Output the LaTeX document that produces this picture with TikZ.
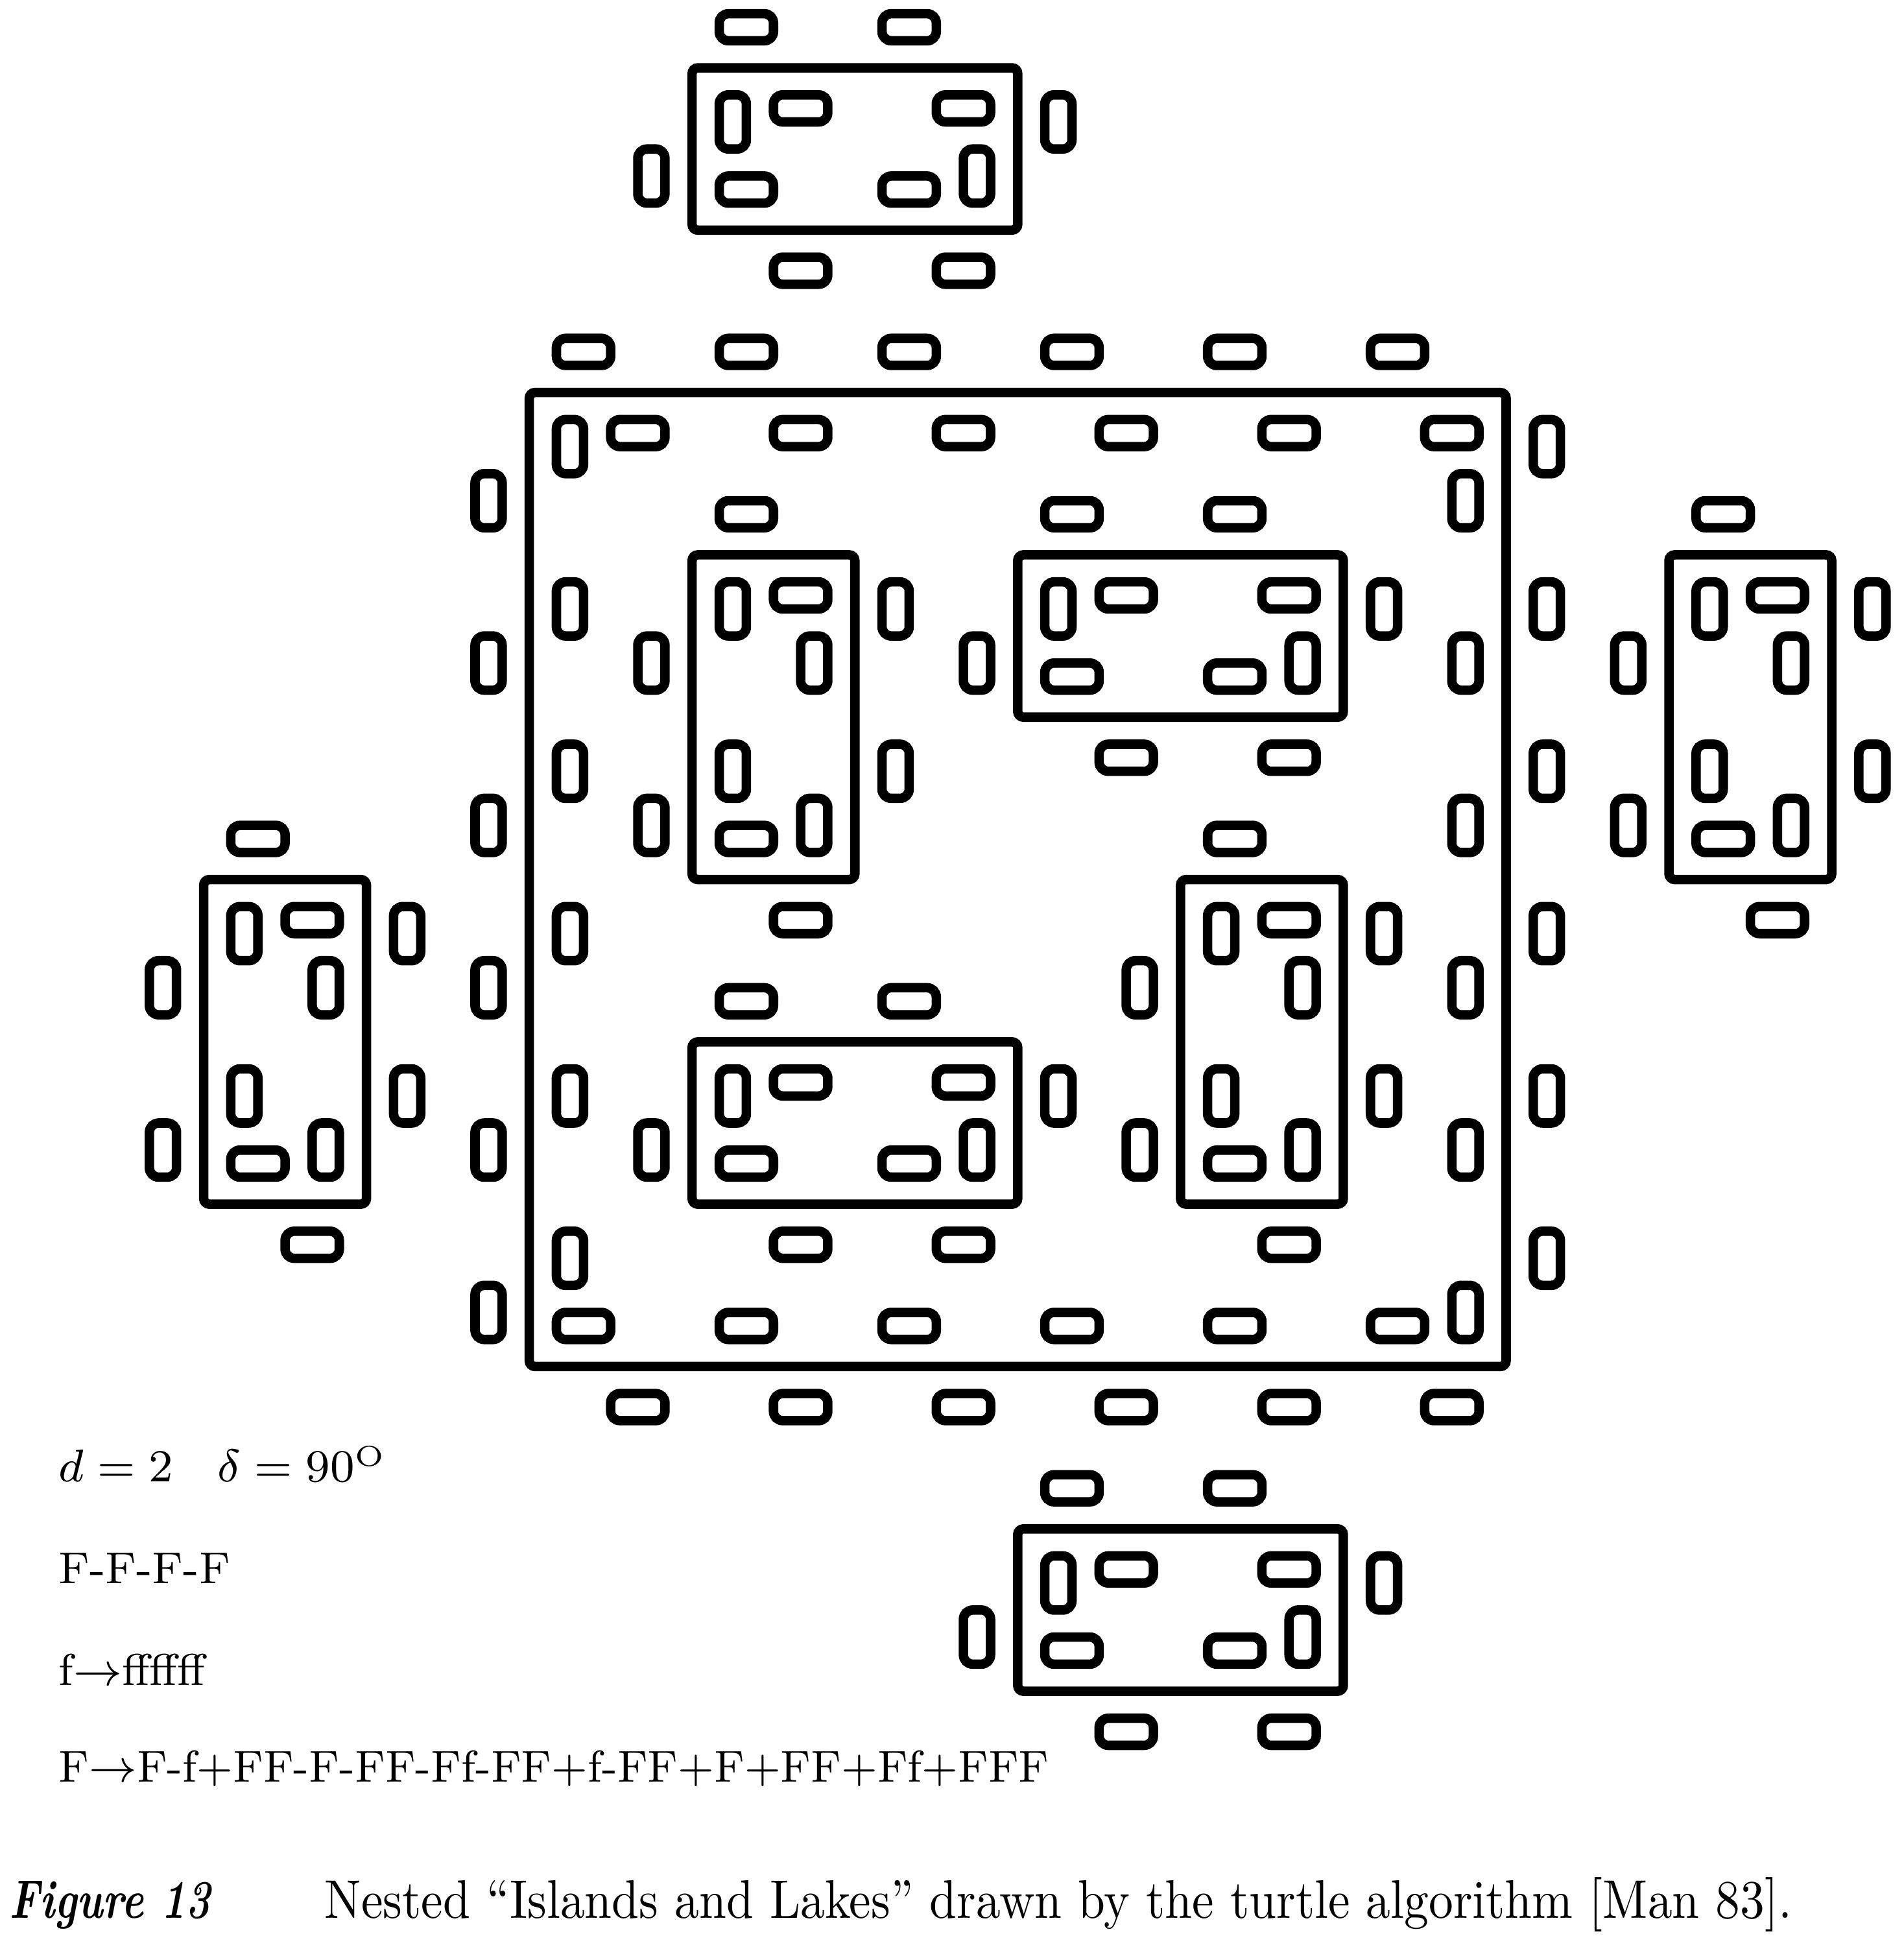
\documentclass[tikz,border=0pt]{standalone}
\usepackage{amsmath}
\usepackage{graphicx}
\usepackage{tikz}

% one unit step from (#1,#2) in direction (#3,#4), repeated #5 times:
% small lake on the left, small island on the right
\newcommand{\sidepair}[5]{%
  \foreach \k in {1,...,#5} {
    \pgfmathsetmacro{\sx}{#1+(\k-1)*(#3)}
    \pgfmathsetmacro{\sy}{#2+(\k-1)*(#4)}
    \draw[islet] ({\sx+(#3)/6-(#4)/6}, {\sy+(#4)/6+(#3)/6}) rectangle ({\sx+(#3)/2-(#4)/3}, {\sy+(#4)/2+(#3)/3});
    \draw[islet] ({\sx+(#3)/2+(#4)/6}, {\sy+(#4)/2-(#3)/6}) rectangle ({\sx+5*(#3)/6+(#4)/3}, {\sy+5*(#4)/6-(#3)/3});
  }}
% lake: counterclockwise, x y width height
\newcommand{\lake}[4]{%
  \draw[shoreline] (#1,#2) rectangle ++(#3,#4);
  \sidepair{#1}{#2}{1}{0}{#3}
  \sidepair{#1+#3}{#2}{0}{1}{#4}
  \sidepair{#1+#3}{#2+#4}{-1}{0}{#3}
  \sidepair{#1}{#2+#4}{0}{-1}{#4}}
% island: clockwise, x y width height
\newcommand{\island}[4]{%
  \draw[shoreline] (#1,#2) rectangle ++(#3,#4);
  \sidepair{#1}{#2}{0}{1}{#4}
  \sidepair{#1}{#2+#4}{1}{0}{#3}
  \sidepair{#1+#3}{#2+#4}{0}{-1}{#4}
  \sidepair{#1+#3}{#2}{-1}{0}{#3}}

\begin{document}
\begin{tikzpicture}[
	x=1cm, y=0.997cm,
	shoreline/.style = {draw, line width=1.65pt, rounded corners=1pt},
	islet/.style = {draw, line width=1.65pt, rounded corners=1.6pt},
	rule/.style = {anchor=base west, inner sep=0pt, font=\fontsize{7.8}{10}\selectfont},
	caption/.style = {anchor=base west, inner sep=0pt, font=\fontsize{9.5}{11}\selectfont}
]
  \useasboundingbox (-3.251,-3.508) rectangle (8.442,8.418);
  % Main island
  \draw[shoreline] (0,0) rectangle (6,6);
  \sidepair{0}{0}{1}{0}{6}
  \sidepair{6}{0}{0}{1}{6}
  \sidepair{6}{6}{-1}{0}{6}
  \sidepair{0}{6}{0}{-1}{6}
  % Lakes
  \lake{1}{1}{2}{1}
  \lake{4}{1}{1}{2}
  \lake{3}{4}{2}{1}
  \lake{1}{3}{1}{2}
  % Islands
  \island{3}{-2}{2}{1}
  \island{7}{3}{1}{2}
  \island{1}{7}{2}{1}
  \island{-2}{1}{1}{2}

  % Rules
  \node[rule] at (-2.896,-0.711) (params) {$d = 2 \quad \delta = 90^{\mathrm{O}}$};
  \node[rule] at (-2.896,-1.338) (axiom) {F-F-F-F};
  \node[rule] at (-2.896,-1.962) (fprod) {f$\rightarrow$ffffff};
  \node[rule] at (-2.896,-2.561) (Fprod) {\scalebox{0.98}[1]{F$\rightarrow$F-f+FF-F-FF-Ff-FF+f-FF+F+FF+Ff+FFF}};
  \node[caption] at (-3.20,-3.400) (fignum) {\scalebox{0.77}[1]{\textbf{\textit{Figure 13}}}};
  \node[caption] at (-1.263,-3.400) (figtext) {\scalebox{0.9}[1]{Nested ``Islands and Lakes'' drawn by the turtle algorithm [Man 83].}};
\end{tikzpicture}
\end{document}
